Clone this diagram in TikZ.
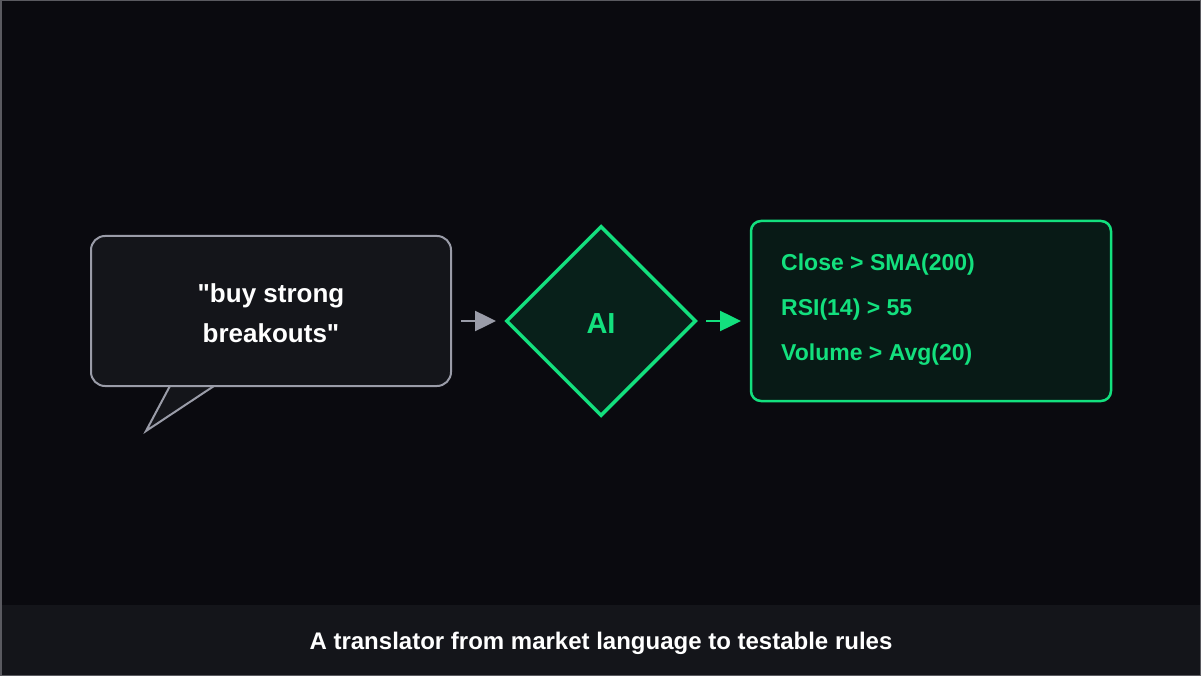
\documentclass[tikz,border=0pt]{standalone}
\usepackage{fontspec}
\setmainfont{Liberation Sans}[Ligatures=TeXOff]
\usetikzlibrary{shapes.geometric,arrows.meta}
\definecolor{bg}{HTML}{0A0A0F}
\definecolor{panel}{HTML}{14151A}
\definecolor{edgegray}{HTML}{9A9CA8}
\definecolor{neon}{HTML}{13E07E}
\definecolor{dfill}{HTML}{08201A}
\definecolor{bfill}{HTML}{081A16}
\definecolor{frame}{HTML}{5A5A60}
\tikzset{
  bubble/.style={draw=edgegray, line width=2pt, fill=panel, rounded corners=14pt,
    minimum width=360pt, minimum height=150pt, inner sep=0pt},
  bubbletext/.style={text=white, inner sep=0pt,
    font=\bfseries\fontsize{26}{40}\selectfont, align=center},
  aibox/.style={diamond, draw=neon, line width=3.5pt, fill=dfill, minimum width=190pt,
    minimum height=190pt, inner sep=0pt, aspect=1},
  ailabelstyle/.style={text=neon, font=\bfseries\fontsize{29}{34}\selectfont, inner sep=0pt},
  rulebox/.style={draw=neon, line width=2.5pt, fill=bfill, rounded corners=10pt,
    minimum width=360pt, minimum height=180pt, inner sep=0pt},
  ruletext/.style={anchor=west, text=neon, font=\bfseries\fontsize{23}{28}\selectfont, inner sep=0pt},
  grayarrow/.style={draw=edgegray, line width=2.5pt, -{Triangle[length=21pt,width=20pt]}},
  greenarrow/.style={draw=neon, line width=2.5pt, -{Triangle[length=21pt,width=20pt]}},
  caption/.style={text=white, font=\bfseries\fontsize{24}{28}\selectfont},
}
\begin{document}
\begin{tikzpicture}[x=1pt,y=-1pt]
\useasboundingbox (0,0) rectangle (1201,676);
\fill[bg] (0,0) rectangle (1201,676);
\fill[panel] (0,605) rectangle (1201,676);
\draw[frame, line width=1.5pt] (0.75,0.75) rectangle (1200.25,675.25);
% tail
\coordinate (tipA) at (171,384);
\coordinate (tipB) at (146,431);
\coordinate (tipC) at (217,384);
\filldraw[fill=panel, draw=edgegray, line width=2pt, line join=miter] (tipA) -- (tipB) -- (tipC);
\node[bubble] (bub) at (271,311) {};
\node[bubbletext] (bubtext) at (271,313) {"buy strong\\breakouts"};
\node[aibox] (ai) at (601,321) {};
\node[ailabelstyle] (ailabel) at (601,324) {AI};
\node[rulebox] (rules) at (931,311) {};
\node[ruletext] (r1) at (781,265) {Close > SMA(200)};
\node[ruletext] (r2) at (781,310) {RSI(14) > 55};
\node[ruletext] (r3) at (781,355) {Volume > Avg(20)};
\coordinate (a1s) at (461,321);
\coordinate (a1e) at (496,321);
\coordinate (a2s) at (706,321);
\coordinate (a2e) at (741,321);
\draw[grayarrow] (a1s) -- (a1e);
\draw[greenarrow] (a2s) -- (a2e);
\node[caption] (cap) at (601,643) {A translator from market language to testable rules};
\end{tikzpicture}
\end{document}
